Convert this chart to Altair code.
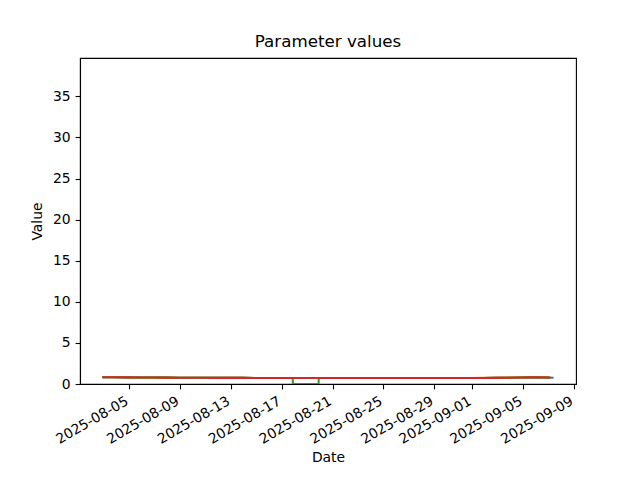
import altair as alt
import pandas as pd

# daily sample times
times = [
    "2025-08-02T21:00", "2025-08-03T21:00", "2025-08-04T21:00", "2025-08-05T21:00",
    "2025-08-06T21:00", "2025-08-07T21:00", "2025-08-08T21:00", "2025-08-09T21:00",
    "2025-08-10T21:00", "2025-08-11T21:00", "2025-08-12T21:00", "2025-08-13T21:00",
    "2025-08-14T21:00", "2025-08-15T21:00", "2025-08-16T21:00", "2025-08-17T21:00",
    "2025-08-18T21:00", "2025-08-19T21:00", "2025-08-20T21:00", "2025-08-21T21:00",
    "2025-08-22T21:00", "2025-08-23T21:00", "2025-08-24T21:00", "2025-08-25T21:00",
    "2025-08-26T21:00", "2025-08-27T21:00", "2025-08-28T21:00", "2025-08-29T21:00",
    "2025-08-30T21:00", "2025-08-31T21:00", "2025-09-01T21:00", "2025-09-02T21:00",
    "2025-09-03T21:00", "2025-09-04T21:00", "2025-09-05T21:00", "2025-09-06T21:00",
    "2025-09-07T09:00",
]

p1 = [0.82, 0.82, 0.81, 0.80, 0.79, 0.78, 0.77, 0.76, 0.76, 0.75, 0.75, 0.75,
      0.74, 0.74, 0.74, None, None, None, 0.73, 0.73, 0.72, 0.72, 0.72, 0.73,
      0.72, 0.72, 0.72, 0.73, 0.73, 0.74, 0.74, 0.75, 0.77, 0.80, 0.82, 0.80, 0.76]
p2 = [0.86, 0.84, 0.82, 0.80, 0.79, 0.78, 0.77, 0.76, 0.76, 0.75, 0.75, 0.75,
      0.74, 0.74, 0.74, None, None, None, 0.73, 0.73, 0.72, 0.72, 0.72, 0.73,
      0.72, 0.72, 0.72, 0.73, 0.73, 0.74, 0.75, 0.76, 0.79, 0.83, 0.86, 0.82, None]
p3 = [0.82, 0.82, 0.81, 0.80, 0.79, 0.78, 0.77, 0.76, 0.76, 0.75, 0.75, 0.75,
      0.74, 0.74, 0.74, 0.0, 0.0, 0.0, 0.73, 0.73, 0.72, 0.72, 0.72, 0.73,
      0.72, 0.72, 0.72, 0.73, 0.73, 0.74, 0.74, 0.75, 0.77, 0.80, 0.82, 0.80, None]
p4 = [0.82, 0.82, 0.81, 0.80, 0.79, 0.78, 0.77, 0.76, 0.76, 0.75, 0.75, 0.75,
      0.74, 0.74, 0.74, 0.73, 0.73, 0.73, 0.73, 0.73, 0.72, 0.72, 0.72, 0.73,
      0.72, 0.72, 0.72, 0.73, 0.73, 0.74, 0.74, 0.75, 0.77, 0.80, 0.82, 0.80, None]

# break points around the outage
gap_start = "2025-08-17T20:40"
gap_start_low = "2025-08-17T20:50"
gap_end_low = "2025-08-19T21:30"
gap_end = "2025-08-19T21:40"
gap_level = 0.73
end_time_short = "2025-09-07T03:00"
end_value = 0.76

series_names = ["p1", "p2", "p3", "p4"]
series_colors = ["#1f77b4", "#ff7f0e", "#2ca02c", "#d62728"]
split_series = ["p1", "p2"]  # these have a gap during the outage

rows = []
for name, vals in zip(series_names, [p1, p2, p3, p4]):
    for t, v in zip(times, vals):
        if v is None:
            continue
        seg = (0 if t < gap_start else 1) if name in split_series else 0
        rows.append({"series": name, "seg": f"{name}-{seg}", "time": t, "value": v})
for name in split_series:
    rows.append({"series": name, "seg": f"{name}-0", "time": gap_start, "value": gap_level})
    rows.append({"series": name, "seg": f"{name}-1", "time": gap_end, "value": gap_level})
rows.append({"series": "p3", "seg": "p3-0", "time": gap_start, "value": gap_level})
rows.append({"series": "p3", "seg": "p3-0", "time": gap_start_low, "value": 0.0})
rows.append({"series": "p3", "seg": "p3-0", "time": gap_end_low, "value": 0.0})
rows.append({"series": "p3", "seg": "p3-0", "time": gap_end, "value": gap_level})
for name in ["p2", "p3", "p4"]:
    seg = f"{name}-1" if name in split_series else f"{name}-0"
    rows.append({"series": name, "seg": seg, "time": end_time_short, "value": end_value})

df = pd.DataFrame(rows)

x_ticks = [
    alt.DateTime(year=2025, month=8, date=5),
    alt.DateTime(year=2025, month=8, date=9),
    alt.DateTime(year=2025, month=8, date=13),
    alt.DateTime(year=2025, month=8, date=17),
    alt.DateTime(year=2025, month=8, date=21),
    alt.DateTime(year=2025, month=8, date=25),
    alt.DateTime(year=2025, month=8, date=29),
    alt.DateTime(year=2025, month=9, date=1),
    alt.DateTime(year=2025, month=9, date=5),
    alt.DateTime(year=2025, month=9, date=9),
]
y_ticks = [0, 5, 10, 15, 20, 25, 30, 35]

x_scale = alt.Scale(domain=[
    alt.DateTime(year=2025, month=8, date=1, hours=2, minutes=54),
    alt.DateTime(year=2025, month=9, date=9, hours=3, minutes=30),
])
y_scale = alt.Scale(domain=[0, 39.67], nice=False, zero=False)

layers = []
for name, col in zip(series_names, series_colors):
    sub = df[df["series"] == name]
    layers.append(
        alt.Chart(sub).mark_line(strokeWidth=2.08, clip=True, color=col).encode(
            x=alt.X("time:T", scale=x_scale, title="Date",
                    axis=alt.Axis(values=x_ticks, format="%Y-%m-%d", labelAngle=-30,
                                  labelAlign="right", labelBaseline="top",
                                  labelOverlap=False, labelBound=False,
                                  labelOffset=-6, titlePadding=4)),
            y=alt.Y("value:Q", scale=y_scale, title="Value",
                    axis=alt.Axis(values=y_ticks, labelOverlap=False, titlePadding=8)),
            detail="seg:N",
        )
    )

chart = alt.layer(*layers).properties(
    width=496,
    height=326,
    title=alt.TitleParams("Parameter values", fontSize=16.7, font="DejaVu Sans",
                          fontWeight="normal", color="black", offset=7),
    autosize=alt.AutoSizeParams(type="none"),
    padding={"left": 72, "top": 50, "right": 56, "bottom": 88},
).configure_view(
    stroke="black", strokeWidth=1.1
).configure_axis(
    grid=False,
    domainColor="black",
    domainWidth=1.1,
    tickColor="black",
    tickWidth=1.1,
    tickSize=4.9,
    labelColor="black",
    labelFont="DejaVu Sans",
    labelFontSize=13.9,
    labelPadding=4.9,
    titleFont="DejaVu Sans",
    titleFontSize=13.9,
    titleFontWeight="normal",
    titleColor="black",
    zindex=1,
)

chart.save("out.html", embed_options={"renderer": "svg", "actions": False})
